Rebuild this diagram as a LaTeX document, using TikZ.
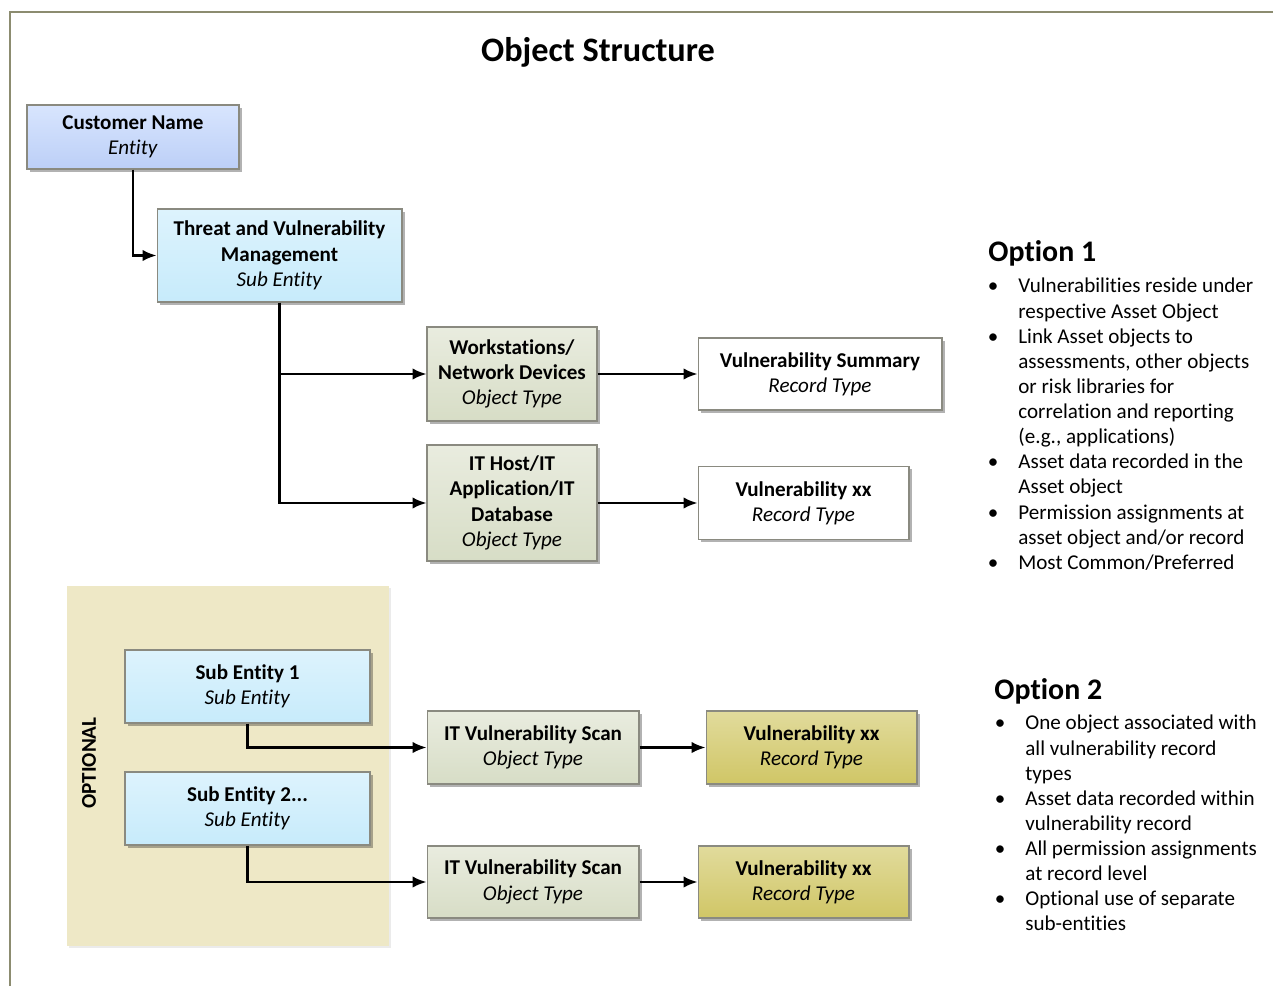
\documentclass[tikz,border=0pt]{standalone}
\usepackage{fontspec}
\setmainfont{Carlito}[Ligatures=NoCommon]
\usepackage{tikz}
\usetikzlibrary{arrows.meta, positioning, shadows}
\definecolor{framegray}{HTML}{8C8C70}
\definecolor{boxborder}{HTML}{8A8A80}
\definecolor{entitytop}{HTML}{D8E5FE}
\definecolor{entitybottom}{HTML}{BCCFF7}
\definecolor{subtop}{HTML}{DDF3FD}
\definecolor{subbottom}{HTML}{C7EBFB}
\definecolor{objecttop}{HTML}{E9ECDF}
\definecolor{objectbottom}{HTML}{D7DDC6}
\definecolor{goldtop}{HTML}{E1DB9C}
\definecolor{goldbottom}{HTML}{D0C666}
\definecolor{optionalfill}{HTML}{EEE8C6}

\newcommand{\optbullet}{\makebox[0.52cm][l]{\kern-0.09cm\textbullet}}
\newcommand{\optindent}{\makebox[0.52cm][l]{}}

\begin{document}
\begin{tikzpicture}[
        x=0.02cm, y=-0.02cm,
        basebox/.style={
            draw=boxborder,
            line width=0.6pt,
            align=center,
            inner sep=2pt,
            font=\fontsize{12}{14.4}\selectfont,
            drop shadow={shadow xshift=1.6pt, shadow yshift=-1.6pt, fill=black, opacity=0.3}
        },
        entitybox/.style={basebox, top color=entitytop, bottom color=entitybottom},
        subbox/.style={basebox, top color=subtop, bottom color=subbottom, minimum width=4.9cm},
        objectbox/.style={basebox, top color=objecttop, bottom color=objectbottom},
        recordbox/.style={basebox, fill=white, drop shadow={shadow xshift=0pt, shadow yshift=0pt, opacity=0}},
        goldbox/.style={basebox, top color=goldtop, bottom color=goldbottom},
        link/.style={-{Latex[length=2.8mm, width=2.3mm]}, line width=1.2pt},
        heading/.style={anchor=base west, inner sep=0pt, font=\fontsize{17}{20}\selectfont\bfseries},
        optionlist/.style={anchor=north west, inner sep=0pt, align=left, font=\fontsize{12}{14.3}\selectfont}
    ]
        \useasboundingbox (0,0) rectangle (1273,986);
        \draw[framegray, line width=0.7pt] (10,986) -- (10,12) -- (1273,12);

        \node[anchor=base, font=\fontsize{19.5}{22}\selectfont\bfseries] (title) at (598,62) {Object Structure};

        \node[minimum width=6.44cm, minimum height=7.2cm, fill=optionalfill,
            drop shadow={shadow xshift=1pt, shadow yshift=-1pt, fill=black, opacity=0.08}]
            (optional) at (228,766) {};
        \node[rotate=90, font=\fontsize{12}{14}\selectfont\bfseries] (optionallabel) at (89,763) {OPTIONAL};

        \node[entitybox, minimum width=4.24cm, minimum height=1.28cm] (customer) at (133,137)
            {\textbf{Customer Name}\\\textit{Entity}};
        \node[subbox, minimum height=1.86cm] (tvm) at (279.5,255.5)
            {\textbf{Threat and Vulnerability}\\\textbf{Management}\\\textit{Sub Entity}};
        \node[objectbox, minimum width=3.4cm, minimum height=1.88cm] (workstations) at (512,374)
            {\textbf{Workstations/}\\\textbf{Network Devices}\\\textit{Object Type}};
        \node[objectbox, minimum width=3.4cm, minimum height=2.32cm] (ithost) at (512,503)
            {\textbf{IT Host/IT}\\\textbf{Application/IT}\\\textbf{Database}\\\textit{Object Type}};
        \node[recordbox, minimum width=4.88cm, minimum height=1.44cm, right=2cm of workstations] (vulnsummary)
            {\textbf{Vulnerability Summary}\\\textit{Record Type}};
        \node[recordbox, minimum width=4.22cm, minimum height=1.46cm, right=2cm of ithost] (vulnxx)
            {\textbf{Vulnerability xx}\\\textit{Record Type}};

        \node[subbox, minimum height=1.46cm] (subone) at (247.5,686.5)
            {\textbf{Sub Entity 1}\\\textit{Sub Entity}};
        \node[subbox, minimum height=1.46cm] (subtwo) at (247.5,808.5)
            {\textbf{Sub Entity 2...}\\\textit{Sub Entity}};
        \node[objectbox, minimum width=4.24cm, minimum height=1.46cm] (scanone) at (533,747.5)
            {\textbf{IT Vulnerability Scan}\\\textit{Object Type}};
        \node[objectbox, minimum width=4.24cm, minimum height=1.44cm] (scantwo) at (533,882)
            {\textbf{IT Vulnerability Scan}\\\textit{Object Type}};
        \node[goldbox, minimum width=4.22cm, minimum height=1.46cm, right=1.32cm of scanone] (recordone)
            {\textbf{Vulnerability xx}\\\textit{Record Type}};
        \node[goldbox, minimum width=4.22cm, minimum height=1.44cm, right=1.16cm of scantwo] (recordtwo)
            {\textbf{Vulnerability xx}\\\textit{Record Type}};

        \draw[link] (customer.south) |- (tvm.west);
        \draw[link] (tvm.south) |- (workstations.west);
        \draw[link] (tvm.south) |- (ithost.west);
        \draw[link] (workstations.east) -- (vulnsummary.west);
        \draw[link] (ithost.east) -- (vulnxx.west);
        \draw[link] (subone.south) |- (scanone.west);
        \draw[link] (subtwo.south) |- (scantwo.west);
        \draw[link] (scanone.east) -- (recordone.west);
        \draw[link] (scantwo.east) -- (recordtwo.west);

        \node[heading] (optiononehead) at (988,262) {Option 1};
        \node[optionlist] (optiononelist) at (992,278) {%
            \optbullet Vulnerabilities reside under\\
            \optindent respective Asset Object\\
            \optbullet Link Asset objects to\\
            \optindent assessments, other objects\\
            \optindent or risk libraries for\\
            \optindent correlation and reporting\\
            \optindent (e.g., applications)\\
            \optbullet Asset data recorded in the\\
            \optindent Asset object\\
            \optbullet Permission assignments at\\
            \optindent asset object and/or record\\
            \optbullet Most Common/Preferred};

        \node[heading] (optiontwohead) at (994,699) {Option 2};
        \node[optionlist] (optiontwolist) at (999,715) {%
            \optbullet One object associated with\\
            \optindent all vulnerability record\\
            \optindent types\\
            \optbullet Asset data recorded within\\
            \optindent vulnerability record\\
            \optbullet All permission assignments\\
            \optindent at record level\\
            \optbullet Optional use of separate\\
            \optindent sub-entities};
    \end{tikzpicture}
\end{document}
